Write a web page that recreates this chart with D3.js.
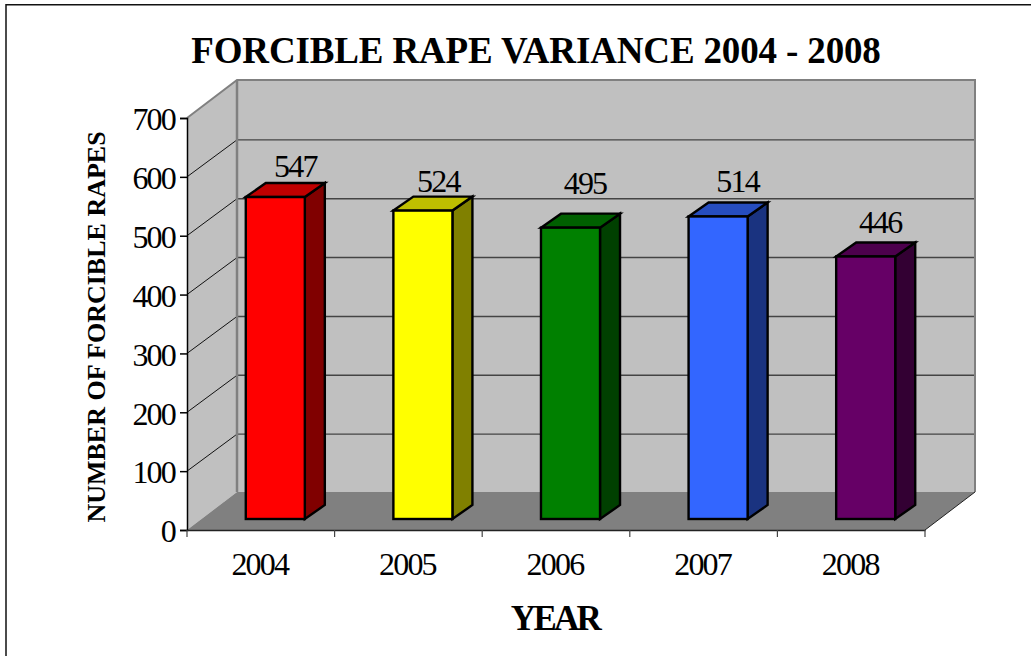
<!DOCTYPE html>
<html><head><meta charset="utf-8">
<script src="https://cdn.jsdelivr.net/npm/d3@7/dist/d3.min.js"></script>
<style>html,body{margin:0;padding:0;background:#fff;overflow:hidden}svg{display:block}text{font-family:"Liberation Serif",serif;fill:#000}</style>
</head><body><div id="c"></div>
<script>
const years=["2004","2005","2006","2007","2008"];
const values=[547,524,495,514,446];
const fronts=["#FF0000","#FFFF00","#008000","#3366FF","#660066"];
const tops=["#C00000","#BFBF00","#006000","#264DBF","#4D004D"];
const sides=["#800000","#808000","#004000","#1A3380","#330033"];
const yTicks=[0,100,200,300,400,500,600,700];
const W=1031,H=656;
const svg=d3.select("#c").append("svg").attr("width",W).attr("height",H);
const x=d3.scaleBand().domain(years).range([187,925]).paddingInner(0).paddingOuter(0);
const y=d3.scaleLinear().domain([0,700]).range([530,118]);
const depth={x:50,y:-38}, barOff={x:14.5,y:-11}, barDepth={x:20,y:-14};
const barW=x.bandwidth()*0.4;
const nudgeX=[0,-4.5,-5.5,-0.5,-5.5], nudgeY=[-1,0.5,-14.6,-5.5,-4.5];
const line=d3.line();
const numStyle=s=>s.attr("font-size",32).attr("letter-spacing","-1.8px").attr("font-family",'"Liberation Serif",serif').attr("fill","#000");
// frame
svg.append("path").attr("d",line([[6,H],[6,4.8],[W,4.8]])).attr("fill","none").attr("stroke","#111").attr("stroke-width",1.5);
// walls
const x0=x.range()[0],x1=x.range()[1],y0=y(0),yT=y(700);
svg.append("path").attr("d",line([[x0,y0],[x0,yT],[x0+depth.x,yT+depth.y],[x0+depth.x,y0+depth.y]])+"Z").attr("fill","#C0C0C0");
svg.append("rect").attr("x",x0+depth.x).attr("y",yT+depth.y).attr("width",x1-x0).attr("height",y0-yT).attr("fill","#C0C0C0");
svg.append("path").attr("d",line([[x0,y0],[x1,y0],[x1+depth.x,y0+depth.y],[x0+depth.x,y0+depth.y]])+"Z").attr("fill","#808080");
// gridlines
yTicks.filter(v=>v>0&&v<700).forEach(v=>{
  svg.append("path").attr("d",line([[x0,y(v)],[x0+depth.x,y(v)+depth.y+1]])).attr("fill","none").attr("stroke","#111").attr("stroke-width",1);
  svg.append("path").attr("d",line([[x0+depth.x,y(v)+depth.y+1],[x1+depth.x,y(v)+depth.y+1]])).attr("fill","none").attr("stroke","#444").attr("stroke-width",1.4);
});
// wall edges
svg.append("path").attr("d",line([[x0,yT],[x0+depth.x,yT+depth.y],[x1+depth.x,yT+depth.y],[x1+depth.x,y0+depth.y]])).attr("fill","none").attr("stroke","#808080").attr("stroke-width",2);
svg.append("path").attr("d",line([[x0+depth.x,yT+depth.y],[x0+depth.x,y0+depth.y]])).attr("fill","none").attr("stroke","#808080").attr("stroke-width",2.5);
svg.append("path").attr("d",line([[x1,y0],[x1+depth.x,y0+depth.y]])).attr("fill","none").attr("stroke","#222").attr("stroke-width",1);
// bars
years.forEach((yr,i)=>{
  const l=x(yr)+x.bandwidth()*0.3+barOff.x, r=l+barW;
  const b=y(0)+barOff.y, t=y(values[i])+barOff.y;
  const g=svg.append("g").attr("stroke","#000").attr("stroke-width",2.4).attr("stroke-linejoin","miter");
  g.append("path").attr("d",line([[r,t],[r+barDepth.x,t+barDepth.y],[r+barDepth.x,b+barDepth.y],[r,b]])+"Z").attr("fill",sides[i]);
  g.append("path").attr("d",line([[l,t],[l+barDepth.x,t+barDepth.y],[r+barDepth.x,t+barDepth.y],[r,t]])+"Z").attr("fill",tops[i]);
  g.append("rect").attr("x",l).attr("y",t).attr("width",barW).attr("height",b-t).attr("fill",fronts[i]);
  svg.append("text").attr("x",(l+r)/2+barDepth.x+nudgeX[i]).attr("y",t+barDepth.y-5+nudgeY[i]).attr("text-anchor","middle").call(numStyle).text(values[i]);
});
// axes
const ay=svg.append("g").attr("transform",`translate(${x0},0)`).call(d3.axisLeft(y).tickValues(yTicks).tickSize(7).tickPadding(5).tickFormat(d3.format("d")));
ay.selectAll("path").attr("stroke","#000").attr("stroke-width",1.5);
ay.selectAll("line").attr("stroke","#000").attr("stroke-width",1.5);
ay.selectAll("text").call(numStyle).attr("dy","0.37em");
const ax=svg.append("g").attr("transform",`translate(0,${y0})`).call(d3.axisBottom(x).tickSize(0).tickPadding(0).tickSizeOuter(0));
ax.select("path").attr("stroke","#222").attr("stroke-width",1.5);
ax.selectAll("text").call(numStyle).attr("y",45).attr("dy",0).attr("dx",-1);
[...years.map(d=>x(d)),x1].forEach(v=>{
  svg.append("line").attr("x1",v).attr("x2",v).attr("y1",y0).attr("y2",y0+7).attr("stroke","#444").attr("stroke-width",1.2);
});
// titles
svg.append("text").attr("x",536).attr("y",63).attr("text-anchor","middle").attr("font-weight","bold").attr("font-size",37).attr("letter-spacing","-0.15px").text("FORCIBLE RAPE VARIANCE 2004 - 2008");
svg.append("text").attr("x",555).attr("y",630).attr("text-anchor","middle").attr("font-weight","bold").attr("font-size",35).attr("letter-spacing","-2.7px").text("YEAR");
svg.append("text").attr("transform","translate(104.5,327) rotate(-90)").attr("text-anchor","middle").attr("font-weight","bold").attr("font-size",26).text("NUMBER OF FORCIBLE RAPES");
</script></body></html>
